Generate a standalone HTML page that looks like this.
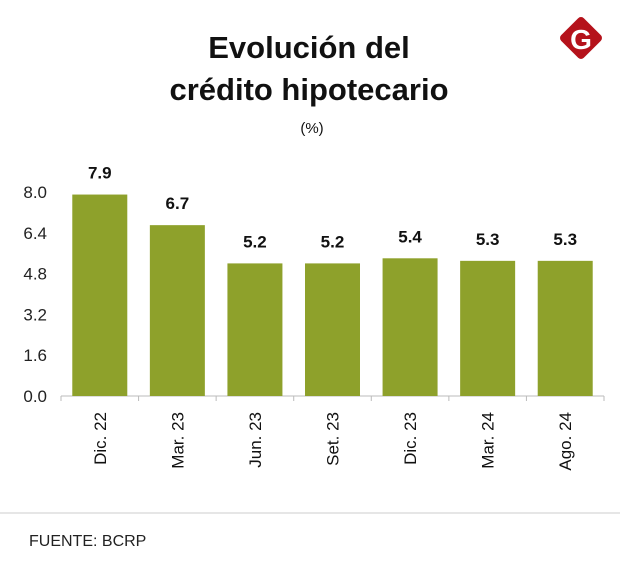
<!DOCTYPE html>
<html><head><meta charset="utf-8"><style>
html,body{margin:0;padding:0;background:#fff}
body{width:620px;height:575px;overflow:hidden;font-family:"Liberation Sans",sans-serif}
</style></head><body>
<svg width="620" height="575" xmlns="http://www.w3.org/2000/svg">
<text x="309" y="58" text-anchor="middle" font-size="31" font-weight="bold" fill="#111">Evolución del</text>
<text x="309" y="100" text-anchor="middle" font-size="31" font-weight="bold" fill="#111">crédito hipotecario</text>
<text x="312" y="133" text-anchor="middle" font-size="15" fill="#111">(%)</text>
<g>
<rect x="565" y="22" width="32" height="32" rx="4" fill="#b5121b" transform="rotate(45 581 38)"/>
<text x="581" y="49" text-anchor="middle" font-size="28" font-weight="bold" fill="#fff">G</text>
</g>
<g id="plot"></g>
<line x1="0" y1="513" x2="620" y2="513" stroke="#ddd" stroke-width="1.5"/>
<text x="29" y="546" font-size="16" fill="#222">FUENTE: BCRP</text>
</svg>
<script>
const categories=["Dic. 22","Mar. 23","Jun. 23","Set. 23","Dic. 23","Mar. 24","Ago. 24"];
const values=[7.9,6.7,5.2,5.2,5.4,5.3,5.3];
const ticks=[0,1.6,3.2,4.8,6.4,8.0];
const NS="http://www.w3.org/2000/svg";
const g=document.getElementById('plot');
const x0=61,x1=604,y0=396,yMax=8,ppu=25.5;
const step=(x1-x0)/categories.length;
const y=v=>y0-v*ppu;
function mk(t,a){const e=document.createElementNS(NS,t);for(const k in a)e.setAttribute(k,a[k]);g.appendChild(e);return e;}
ticks.forEach(t=>{const e=mk('text',{x:47,y:y(t)+6,'text-anchor':'end','font-size':17,fill:'#222'});e.textContent=t.toFixed(1);

});
const ax=mk('line',{x1:x0,y1:y0,x2:x1,y2:y0,stroke:'#bbb','stroke-width':1});


for(let i=0;i<=categories.length;i++){const tk=mk('line',{x1:x0+i*step,y1:y0,x2:x0+i*step,y2:y0+5,stroke:'#bbb'});

}
categories.forEach((c,i)=>{
const cx=x0+step*(i+0.5),w=55;
const r=mk('rect',{x:cx-w/2,y:y(values[i]),width:w,height:values[i]*ppu,fill:'#8ea12b'});


const v=mk('text',{x:cx,y:y(values[i])-16,'text-anchor':'middle','font-size':17,'font-weight':'bold',fill:'#111'});v.textContent=values[i].toFixed(1);


const l=mk('text',{x:0,y:0,'text-anchor':'end','font-size':17,fill:'#111',transform:`translate(${cx+6},412) rotate(-90)`});l.textContent=c;


});
</script>
</body></html>
